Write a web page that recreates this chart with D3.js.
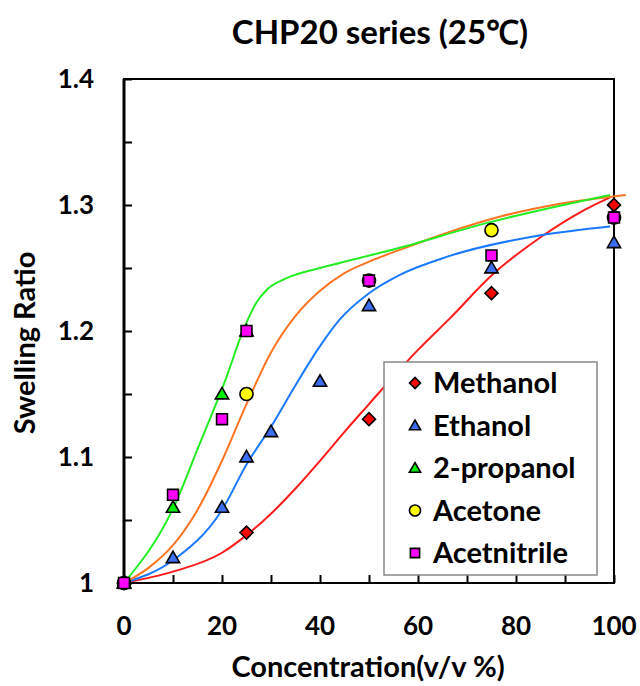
<!DOCTYPE html>
<html>
<head>
<meta charset="utf-8">
<script src="https://cdn.jsdelivr.net/npm/d3@7"></script>
<style>
  body { margin: 0; background: #fff; }
  text { font-family: Lato, "Open Sans", sans-serif; font-weight: bold; fill: #000; }
</style>
</head>
<body>
<script>
// data
var methanol   = [[0, 1], [25, 1.04], [50, 1.13], [75, 1.23], [100, 1.30]];
var ethanol    = [[0, 1], [10, 1.02], [20, 1.06], [25, 1.10], [30, 1.12], [40, 1.16], [50, 1.22], [75, 1.25], [100, 1.27]];
var propanol   = [[0, 1], [10, 1.06], [20, 1.15], [25, 1.20]];
var acetone    = [[0, 1], [25, 1.15], [50, 1.24], [75, 1.28], [100, 1.29]];
var acetnitrile = [[0, 1], [10, 1.07], [20, 1.13], [25, 1.20], [50, 1.24], [75, 1.26], [100, 1.29]];

// fitted curves
var fitRed    = [[0, 1], [10, 1.009], [20, 1.024], [25, 1.038], [30, 1.055], [35, 1.075], [40, 1.097], [45, 1.120], [50, 1.142], [55, 1.164], [60, 1.185], [66.5, 1.210], [75, 1.244], [85.6, 1.276], [93, 1.294], [99.2, 1.306]];
var fitBlue   = [[0, 1], [10, 1.018], [20, 1.058], [25, 1.094], [30, 1.124], [35, 1.157], [40, 1.188], [44, 1.209], [50, 1.230], [56, 1.244], [66, 1.259], [85, 1.276], [99.2, 1.283]];
var fitGreen  = [[0, 1], [10, 1.059], [15.5, 1.111], [20.4, 1.158], [24.7, 1.204], [27.1, 1.223], [29.2, 1.233], [33.2, 1.242], [40, 1.250], [44, 1.254], [56.3, 1.266], [73.3, 1.285], [99.2, 1.308]];
var fitOrange = [[0, 1], [5, 1.012], [10, 1.030], [15, 1.058], [20, 1.097], [25, 1.142], [30, 1.183], [35, 1.212], [40, 1.232], [45, 1.246], [50, 1.255], [56, 1.264], [66, 1.278], [77, 1.291], [89, 1.301], [102.4, 1.308]];

var xTicks = [0, 20, 40, 60, 80, 100];
var yTicks = [1, 1.1, 1.2, 1.3, 1.4];
var legendNames = ["Methanol", "Ethanol", "2-propanol", "Acetone", "Acetnitrile"];

var width = 640, height = 686;
var pLeft = 124, pTop = 79, pRight = 614, pBottom = 583;

var svg = d3.select("body").append("svg")
    .attr("width", width)
    .attr("height", height);

var x = d3.scaleLinear().domain([0, 100]).range([pLeft, pRight]);
var y = d3.scaleLinear().domain([1, 1.4]).range([pBottom, pTop]);

// frame
svg.append("rect")
    .attr("x", pLeft).attr("y", pTop)
    .attr("width", pRight - pLeft).attr("height", pBottom - pTop)
    .attr("fill", "none").attr("stroke", "#000").attr("stroke-width", 2);
svg.append("line")
    .attr("x1", pLeft).attr("x2", pLeft).attr("y1", pTop).attr("y2", pBottom)
    .attr("stroke", "#000").attr("stroke-width", 3);

// axes, ticks pointing inside
var xAxis = d3.axisBottom(x).tickValues(d3.range(0, 101, 10)).tickSize(-8).tickFormat("");
svg.append("g").attr("transform", "translate(0," + pBottom + ")").call(xAxis)
    .call(g => g.select(".domain").remove())
    .selectAll("line").attr("stroke", "#000").attr("stroke-width", 2);

var yAxis = d3.axisLeft(y).tickValues(d3.range(1, 1.401, 0.05)).tickSize(-8).tickFormat("");
svg.append("g").attr("transform", "translate(" + pLeft + ",0)").call(yAxis)
    .call(g => g.select(".domain").remove())
    .selectAll("line").attr("stroke", "#000").attr("stroke-width", 2);

// tick labels
svg.selectAll(".xl").data(xTicks).enter().append("text")
    .attr("x", d => x(d)).attr("y", 635)
    .attr("text-anchor", "middle").attr("font-size", 26)
    .text(d => d);
svg.selectAll(".yl").data(yTicks).enter().append("text")
    .attr("x", 94).attr("y", d => y(d) + 9)
    .attr("text-anchor", "end").attr("font-size", 26)
    .text(d => +d.toFixed(1));

// titles
svg.append("text").attr("x", 380).attr("y", 44)
    .attr("text-anchor", "middle").attr("font-size", 33)
    .text("CHP20 series (25℃)");
svg.append("text").attr("x", 368).attr("y", 677)
    .attr("text-anchor", "middle").attr("font-size", 29)
    .text("Concentration(v/v %)");
svg.append("text")
    .attr("transform", "translate(35,343) rotate(-90)")
    .attr("text-anchor", "middle").attr("font-size", 29)
    .text("Swelling Ratio");

// fitted curves
var line = d3.line()
    .x(d => x(d[0])).y(d => y(d[1]))
    .curve(d3.curveMonotoneX);

var fits = [[fitRed, "#ff1a1a"], [fitBlue, "#1a7aff"], [fitOrange, "#ff7422"], [fitGreen, "#22ee22"]];
fits.forEach(function (f) {
    svg.append("path").datum(f[0])
        .attr("d", line)
        .attr("fill", "none").attr("stroke", f[1]).attr("stroke-width", 2);
});

// marker shapes
function marker(g, shape, fill, s) {
    var sym;
    if (shape == "diamond") sym = d3.symbol().type(d3.symbolSquare).size(s * s * 0.5);
    if (shape == "triangle") sym = d3.symbol().type(d3.symbolTriangle).size(s * s * 0.45);
    if (shape == "circle") sym = d3.symbol().type(d3.symbolCircle).size(s * s * 0.8);
    if (shape == "square") sym = d3.symbol().type(d3.symbolSquare).size(s * s * 0.7);
    g.append("path").attr("d", sym)
        .attr("transform", shape == "diamond" ? "rotate(45)" : (shape == "triangle" ? "translate(0,1)" : null))
        .attr("fill", fill).attr("stroke", "#000").attr("stroke-width", 1.6);
}

var series = [
    [methanol, "diamond", "#ff0000"],
    [ethanol, "triangle", "#3b6ef0"],
    [propanol, "triangle", "#00ee00"],
    [acetone, "circle", "#ffff00"],
    [acetnitrile, "square", "#ff00ff"]
];

series.forEach(function (s) {
    svg.selectAll(null).data(s[0]).enter().append("g")
        .attr("transform", d => "translate(" + x(d[0]) + "," + y(d[1]) + ")")
        .each(function () { marker(d3.select(this), s[1], s[2], 13); });
});

// legend
var lg = svg.append("g");
lg.append("rect")
    .attr("x", 384).attr("y", 362).attr("width", 213).attr("height", 213)
    .attr("fill", "#fff").attr("stroke", "#888").attr("stroke-width", 1.5);
series.forEach(function (s, i) {
    var cy = 383 + i * 42.5;
    var g = lg.append("g").attr("transform", "translate(415," + cy + ")");
    marker(g, s[1], s[2], 11);
    lg.append("text").attr("x", 433).attr("y", cy + 10)
        .attr("font-size", 29).text(legendNames[i]);
});
</script>
</body>
</html>
